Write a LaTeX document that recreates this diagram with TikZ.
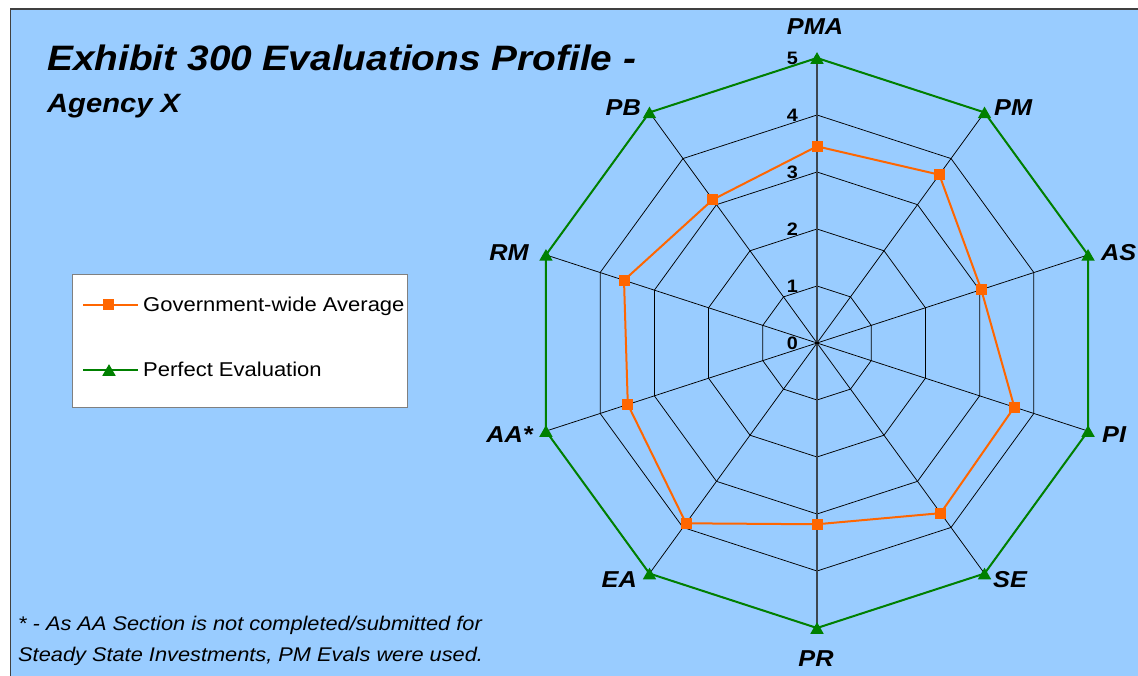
\documentclass[tikz,border=0pt]{standalone}
\usepackage{fontspec}
\setmainfont{Liberation Sans}[FakeStretch=1.1]
\usetikzlibrary{shapes.geometric}
\definecolor{bgblue}{HTML}{99CCFF}
\definecolor{avgorange}{HTML}{FF6600}
\definecolor{perfgreen}{HTML}{008000}
\definecolor{axisgray}{HTML}{3C4650}
\definecolor{panelborder}{HTML}{404040}
\definecolor{legborder}{HTML}{808080}
\begin{document}
\begin{tikzpicture}[x=1pt,y=-1pt,
  gridline/.style={black, line width=0.75pt},
  valaxis/.style={axisgray, line width=1.5pt},
  avgline/.style={avgorange, line width=2pt, line join=round},
  perfline/.style={perfgreen, line width=2pt, line join=round},
  sqmark/.style={rectangle, fill=avgorange, draw=none, minimum size=11pt, inner sep=0pt},
  trimark/.style={regular polygon, regular polygon sides=3, fill=perfgreen, draw=none, minimum size=15.5pt, inner sep=0pt, yshift=-1.9pt},
  catlabel/.style={font=\fontsize{23}{26}\selectfont\bfseries\itshape, inner sep=0pt},
  ticklabel/.style={font=\fontsize{18}{20}\selectfont\bfseries, inner sep=0pt, anchor=east},
  legtext/.style={font=\fontsize{20}{24}\selectfont, inner sep=0pt, anchor=base west},
  foot/.style={font=\fontsize{19.8}{24}\selectfont\itshape, inner sep=0pt, anchor=base west},
  titletext/.style={font=\fontsize{35.3}{40}\selectfont\bfseries\itshape, inner sep=0pt, anchor=base west},
  subtitletext/.style={font=\fontsize{26.5}{30}\selectfont\bfseries\itshape, inner sep=0pt, anchor=base west},
]
\useasboundingbox (0,0) rectangle (1138,676);
\fill[white] (0,0) rectangle (1138,676);
\fill[bgblue] (10.5,9) rectangle (1145,685);
\draw[panelborder, line width=1.3pt] (10.5,685) -- (10.5,9) -- (1145,9);

% chart geometry
\begin{scope}[shift={(817,343)}, yscale=-1]
  \coordinate (O) at (0,0);
  \foreach \n/\a/\v in {PMA/90/3.45, PM/54/3.65, AS/18/3.03, PI/-18/3.64, SE/-54/3.69, PR/-90/3.18, EA/-126/3.91, AA/-162/3.49, RM/162/3.56, PB/126/3.11} {
    \coordinate (p\n) at (\a:285);
    \coordinate (a\n) at (\a:{57*\v});
  }
  \foreach \k in {1,...,5} {
    \draw[gridline] (90:{57*\k}) -- (54:{57*\k}) -- (18:{57*\k}) -- (-18:{57*\k}) -- (-54:{57*\k}) -- (-90:{57*\k}) -- (-126:{57*\k}) -- (-162:{57*\k}) -- (162:{57*\k}) -- (126:{57*\k}) -- cycle;
  }
\end{scope}

\foreach \n in {PM,AS,PI,SE,EA,AA,RM,PB} { \draw[gridline] (O) -- (p\n); }
\draw[valaxis] (pPMA) -- (pPR);
\fill[black] (O) circle (1.6pt);

% perfect evaluation
\draw[perfline] (pPMA) -- (pPM) -- (pAS) -- (pPI) -- (pSE) -- (pPR) -- (pEA) -- (pAA) -- (pRM) -- (pPB) -- cycle;
% government-wide average
\draw[avgline] (aPMA) -- (aPM) -- (aAS) -- (aPI) -- (aSE) -- (aPR) -- (aEA) -- (aAA) -- (aRM) -- (aPB) -- cycle;

\foreach \n in {PMA,PM,AS,PI,SE,PR,EA,AA,RM,PB} {
  \node[trimark] (t\n) at (p\n) {};
  \node[sqmark] (s\n) at (a\n) {};
}

% tick labels
\foreach \k in {0,...,5} {
  \node[ticklabel] (tick\k) at (798,{343-57*\k}) {\k};
}

% category labels
\node[catlabel, anchor=base] (lPMA) at (815,35) {PMA};
\node[catlabel, anchor=base west] (lPM) at (994,116) {PM};
\node[catlabel, anchor=base west] (lAS) at (1101,261) {AS};
\node[catlabel, anchor=base west] (lPI) at (1102,442) {PI};
\node[catlabel, anchor=base west] (lSE) at (993,587) {SE};
\node[catlabel, anchor=base] (lPR) at (816,666) {PR};
\node[catlabel, anchor=base east] (lEA) at (637,587) {EA};
\node[catlabel, anchor=base east] (lAA) at (533,442) {AA*};
\node[catlabel, anchor=base east] (lRM) at (529,261) {RM};
\node[catlabel, anchor=base east] (lPB) at (641,116) {PB};

% title
\node[titletext] (title) at (47,70.5) {Exhibit 300 Evaluations Profile -};
\node[subtitletext] (subtitle) at (47,113) {Agency X};

% legend
\node[draw=legborder, line width=1.2pt, fill=white, anchor=north west, minimum width=335pt, minimum height=133pt, inner sep=0pt] (legend) at (72,274) {};
\coordinate (lg1a) at (83,305);
\coordinate (lg1b) at (138,305);
\coordinate (lg2a) at (83,370);
\coordinate (lg2b) at (138,370);
\draw[avgline] (lg1a) -- (lg1b);
\node[sqmark] (lg1m) at (108.5,305) {};
\draw[perfline] (lg2a) -- (lg2b);
\node[trimark] (lg2m) at (109,370) {};
\node[legtext] (lg1t) at (143,312) {Government-wide Average};
\node[legtext] (lg2t) at (143,377) {Perfect Evaluation};

% footnote
\node[foot] (foot1) at (18,630.5) {* - As AA Section is not completed/submitted for};
\node[foot] (foot2) at (18,661.5) {Steady State Investments, PM Evals were used.};
\end{tikzpicture}
\end{document}
